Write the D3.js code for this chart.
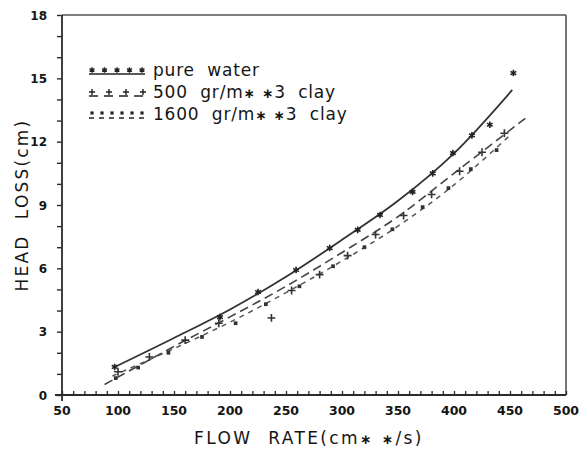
<!DOCTYPE html>
<html><head><meta charset="utf-8">
<script src="https://cdn.jsdelivr.net/npm/d3@7"></script>
<style>
html,body{margin:0;padding:0;background:#fff;}
text{font-family:"DejaVu Sans",sans-serif;fill:#151515;}
</style></head>
<body><svg id="c" width="581" height="452"></svg>
<script>
// ---- data ----
const xTicks = [50,100,150,200,250,300,350,400,450,500];
const yTicks = [0,3,6,9,12,15,18];
const seriesNames = ["pure  water", "500  gr/m\u2217 \u22173  clay", "1600  gr/m\u2217 \u22173  clay"];

// pure water
const pureX = [97,191,225,259,289,314,334,363,381,399,416,432,453];
const pureY = [1.33,3.69,4.88,5.92,6.96,7.82,8.53,9.62,10.5,11.46,12.3,12.8,15.25];
const pureFitX = [98,150,200,250,300,350,400,452];
const pureFitY = [1.35,2.7,4.05,5.6,7.35,9.2,11.45,14.45];

// 500 gr/m**3 clay
const c500X = [100,128,160,190,237,255,280,305,330,355,380,405,425,445];
const c500Y = [1.1,1.8,2.6,3.4,3.65,4.95,5.7,6.6,7.6,8.5,9.5,10.6,11.5,12.4];
const c500FitX = [88,150,200,250,300,350,400,466];
const c500FitY = [0.5,2.3,3.7,5.15,6.75,8.45,10.5,13.2];

// 1600 gr/m**3 clay
const c1600X = [98,118,145,175,205,232,262,292,320,345,372,395,415,438];
const c1600Y = [0.8,1.3,2.0,2.75,3.4,4.3,5.15,6.1,7.0,7.85,8.9,9.8,10.7,11.6];
const c1600FitX = [95,150,200,250,300,350,400,450];
const c1600FitY = [0.9,2.2,3.45,4.85,6.35,8.0,9.95,12.3];

// ---- drawing ----
const svg = d3.select("#c");
const x = d3.scaleLinear().domain([50,500]).range([62,566]);
const y = d3.scaleLinear().domain([0,18]).range([395,15]);
const ink = "#2a2a2a";

// frame (top and right)
svg.append("line").attr("x1",x(50)).attr("x2",x(500)).attr("y1",y(18)).attr("y2",y(18))
  .attr("stroke","#555").attr("stroke-width",1.6);
svg.append("line").attr("x1",x(500)).attr("x2",x(500)).attr("y1",y(18)).attr("y2",y(0))
  .attr("stroke","#555").attr("stroke-width",1.6);

// y axis
const yAx = svg.append("g").attr("transform",`translate(${x(50)},0)`)
  .call(d3.axisLeft(y).tickValues(d3.range(0,19,1)).tickSize(5).tickFormat(""));
yAx.select(".domain").attr("stroke",ink).attr("stroke-width",1.8).attr("d",`M0,${y(18)}V${y(0)+6}`);
yAx.selectAll(".tick line").attr("stroke",ink).attr("stroke-width",1.4);
svg.append("g").selectAll("text").data(yTicks).join("text")
  .attr("x",47).attr("y",d=>y(d)+4.5).attr("text-anchor","end")
  .attr("font-size",12).attr("font-weight","bold").text(d=>d);

// x axis
const xAx = svg.append("g").attr("transform",`translate(0,${y(0)})`)
  .call(d3.axisTop(x).tickValues(d3.range(50,501,10)).tickSize(4).tickFormat(""));
xAx.select(".domain").attr("stroke",ink).attr("stroke-width",1.8).attr("d",`M${x(50)-7},0H${x(500)}`);
xAx.selectAll(".tick line").attr("stroke",ink).attr("stroke-width",1.3);
svg.append("g").selectAll("text").data(xTicks).join("text")
  .attr("x",d=>x(d)).attr("y",415).attr("text-anchor","middle")
  .attr("font-size",12.5).attr("font-weight","bold").text(d=>d);

// helper: render text with smaller, bolder asterisks; keep double spaces
function starText(sel, str){
  sel.attr("xml:space","preserve").style("white-space","pre");
  str.split(/(\u2217)/).forEach(part=>{
    if(part==="\u2217") sel.append("tspan").attr("font-size","0.8em").attr("font-weight","bold").text(part);
    else if(part) sel.append("tspan").text(part);
  });
}

// axis titles
starText(svg.append("text").attr("transform","translate(28,205) rotate(-90)")
  .attr("text-anchor","middle").attr("font-size",17).attr("letter-spacing",2.2), "HEAD  LOSS(cm)");
starText(svg.append("text").attr("x",309).attr("y",444).attr("text-anchor","middle")
  .attr("font-size",17).attr("letter-spacing",2.4),
  "FLOW  RATE(cm\u2217 \u2217/s)");

// lines
const line = d3.line().x(d=>x(d[0])).y(d=>y(d[1])).curve(d3.curveCatmullRom);
const zip = (a,b)=>a.map((v,i)=>[v,b[i]]);
svg.append("path").datum(zip(pureFitX,pureFitY)).attr("d",line)
  .attr("fill","none").attr("stroke","#333").attr("stroke-width",1.8);
svg.append("path").datum(zip(c500FitX,c500FitY)).attr("d",line)
  .attr("fill","none").attr("stroke","#444").attr("stroke-width",1.6).attr("stroke-dasharray","9,5");
svg.append("path").datum(zip(c1600FitX,c1600FitY)).attr("d",line)
  .attr("fill","none").attr("stroke","#555").attr("stroke-width",1.5).attr("stroke-dasharray","5,5");

// markers
const sym = (type,size)=>d3.symbol().type(type).size(size)();
svg.append("g").selectAll("path").data(zip(pureX,pureY)).join("path")
  .attr("transform",d=>`translate(${x(d[0])},${y(d[1])})`).attr("d",sym(d3.symbolAsterisk,30))
  .attr("fill","none").attr("stroke","#222").attr("stroke-width",1.6);
svg.append("g").selectAll("path").data(zip(c500X,c500Y)).join("path")
  .attr("transform",d=>`translate(${x(d[0])},${y(d[1])})`).attr("d",sym(d3.symbolPlus,22))
  .attr("fill","none").attr("stroke","#333").attr("stroke-width",1.6);
svg.append("g").selectAll("path").data(zip(c1600X,c1600Y)).join("path")
  .attr("transform",d=>`translate(${x(d[0])},${y(d[1])})`).attr("d",sym(d3.symbolSquare,14))
  .attr("fill","#333");

// legend
const lg = svg.append("g");
const lx0 = 89, lx1 = 145, rows = [74,96,118];
lg.append("line").attr("x1",lx0).attr("x2",lx1).attr("y1",rows[0]).attr("y2",rows[0])
  .attr("stroke","#222").attr("stroke-width",1.6);
lg.selectAll(".m0").data(d3.range(5)).join("path").attr("class","m0")
  .attr("transform",i=>`translate(${lx0+3+i*12.5},${rows[0]-4})`).attr("d",sym(d3.symbolAsterisk,22))
  .attr("fill","none").attr("stroke","#222").attr("stroke-width",1.4);
lg.append("line").attr("x1",lx0).attr("x2",lx1).attr("y1",rows[1]).attr("y2",rows[1])
  .attr("stroke","#222").attr("stroke-width",1.6).attr("stroke-dasharray","9,6");
lg.selectAll(".m1").data(d3.range(4)).join("path").attr("class","m1")
  .attr("transform",i=>`translate(${lx0+3+i*17},${rows[1]-4})`).attr("d",sym(d3.symbolPlus,14))
  .attr("fill","none").attr("stroke","#222").attr("stroke-width",1.4);
lg.append("line").attr("x1",lx0).attr("x2",lx1).attr("y1",rows[2]).attr("y2",rows[2])
  .attr("stroke","#222").attr("stroke-width",1.5).attr("stroke-dasharray","5,5");
lg.selectAll(".m2").data(d3.range(6)).join("path").attr("class","m2")
  .attr("transform",i=>`translate(${lx0+3+i*10},${rows[2]-5})`).attr("d",sym(d3.symbolSquare,10))
  .attr("fill","#222");
lg.selectAll("text.lab").data(seriesNames).join("text").attr("class","lab")
  .attr("x",153).attr("y",(d,i)=>rows[i]+2).attr("font-size",17).attr("letter-spacing",0.8)
  .each(function(d){ starText(d3.select(this), d); });
</script></body></html>
